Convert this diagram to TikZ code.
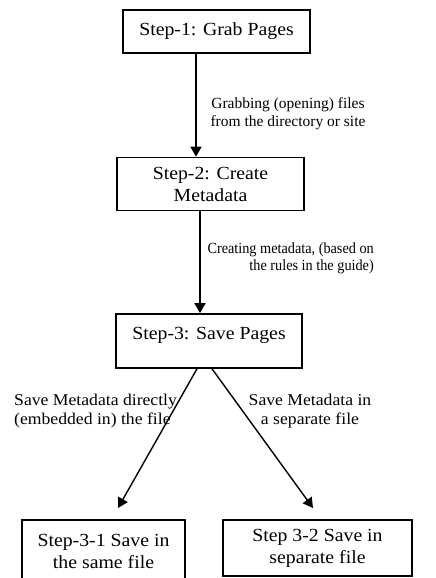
\documentclass[tikz,border=0pt]{standalone}
\usepackage{fontspec}
\setmainfont{Liberation Serif}[FakeStretch=1.07]
\newfontfamily\labfontA{Liberation Serif}[FakeStretch=1.0]
\newfontfamily\labfontB{Liberation Serif}[FakeStretch=0.92]
\usetikzlibrary{arrows.meta,calc}
\begin{document}
\begin{tikzpicture}[x=1pt,y=-1pt,
  box/.style={draw, line width=1.6pt, inner sep=0pt, align=center, font=\fontsize{18.5}{22}\selectfont},
  lab/.style={inner sep=0pt, font=\fontsize{16.5}{18.5}\selectfont},
  labA/.style={inner sep=0pt, font=\labfontA\fontsize{15.5}{18}\selectfont},
  labB/.style={inner sep=0pt, font=\labfontB\fontsize{15.5}{17}\selectfont},
  arr/.style={line width=1.4pt, -{Triangle[length=10pt,width=11pt]}}]
\fill[white] (0,0) rectangle (436,578);
\useasboundingbox (0,0) rectangle (436,578);
% boxes
\node[box, minimum width=187pt, minimum height=43pt] (b1) at (216.5,31.5) {Step-1: Grab Pages};
\node[box, minimum width=187pt, minimum height=53pt] (b2) at (210.5,184) {Step-2: Create\\Metadata};
\node[box, minimum width=186pt, minimum height=54pt, text height=12pt, text depth=16pt] (b3) at (209,341) {Step-3: Save Pages};
\node[box, minimum width=163pt, minimum height=62pt] (b4) at (103.5,551) {Step-3-1 Save in\\the same file};
\node[box, minimum width=189pt, minimum height=56pt] (b5) at (317.5,548) {Step 3-2 Save in\\separate file};
% helper coordinates
\coordinate (x1) at (196,0);
\coordinate (x2) at (200,0);
\coordinate (s4) at (197,0);
\coordinate (s5) at (212,0);
\coordinate (t4) at (118,508);
\coordinate (t5) at (313,508);
% connectors
\draw[arr] (x1 |- b1.south) -- (x1 |- b2.north);
\draw[arr] (x2 |- b2.south) -- (x2 |- b3.north);
\draw[arr] (s4 |- b3.south) -- (t4);
\draw[arr] (s5 |- b3.south) -- (t5);
% labels
\node[labA, align=center] (l1) at (288,114) {Grabbing (opening) files\\from the directory or site};
\node[labB, align=right, anchor=east] (l2) at (374,258) {Creating metadata, (based on\\the rules in the guide)};
\node[lab, align=left, anchor=west] (l3) at (14,411) {Save Metadata directly\\(embedded in) the file};
\node[lab, align=center] (l4) at (310,411) {Save Metadata in\\a separate file};
\end{tikzpicture}
\end{document}
